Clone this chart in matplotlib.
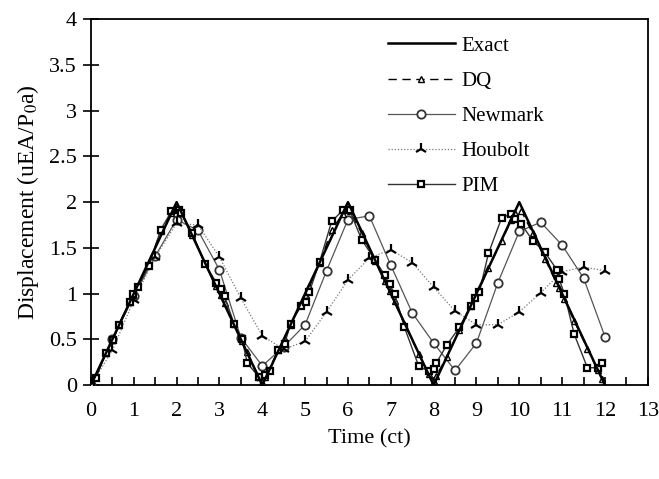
import matplotlib
matplotlib.use("Agg")
import matplotlib.pyplot as plt
import numpy as np

plt.rcParams["font.family"] = ["Liberation Serif", "DejaVu Serif"]
plt.rcParams["mathtext.fontset"] = "stix"

# %% data
t_exact = [0, 2, 4, 6, 8, 10, 12]
u_exact = [0, 2, 0, 2, 0, 2, 0]

t_dq = [0, 0.12, 0.35, 0.52, 0.65, 0.91, 0.99, 1.09, 1.35, 1.63, 1.88, 2.0, 2.11, 2.37, 2.66,
        2.93, 3.03, 3.12, 3.34, 3.53, 3.65, 3.92, 4.0, 4.06, 4.17, 4.37, 4.52, 4.66, 4.9, 5.01,
        5.1, 5.34, 5.62, 5.88, 6.0, 6.04, 6.32, 6.63, 6.86, 6.97, 7.09, 7.32, 7.65, 7.89, 8.0,
        8.06, 8.31, 8.6, 8.87, 8.97, 9.07, 9.28, 9.59, 9.81, 9.91, 10.05, 10.31, 10.6, 10.86,
        10.93, 11.05, 11.28, 11.59, 11.83, 11.94]
u_dq = [0, 0.1, 0.35, 0.5, 0.66, 0.91, 0.99, 1.08, 1.33, 1.68, 1.88, 1.95, 1.88, 1.64, 1.33,
        1.08, 0.98, 0.9, 0.67, 0.48, 0.36, 0.09, 0.03, 0.09, 0.18, 0.38, 0.5, 0.66, 0.88, 0.99,
        1.08, 1.33, 1.7, 1.87, 1.93, 1.9, 1.66, 1.36, 1.14, 1.03, 0.92, 0.67, 0.34, 0.12, 0.05,
        0.1, 0.31, 0.6, 0.87, 0.96, 1.05, 1.28, 1.58, 1.8, 1.88, 1.9, 1.66, 1.38, 1.12,
        1.06, 0.94, 0.7, 0.4, 0.16, 0.07]

t_newmark = np.arange(0, 12.5, 0.5)
u_newmark = [0, 0.5, 0.97, 1.41, 1.81, 1.69, 1.26, 0.52, 0.21, 0.42, 0.66, 1.25, 1.81,
             1.85, 1.31, 0.79, 0.46, 0.16, 0.46, 1.12, 1.68, 1.78, 1.53, 1.17, 0.53]

t_houbolt = np.arange(0, 12.5, 0.5)
u_houbolt = [0, 0.38, 0.93, 1.4, 1.77, 1.75, 1.4, 0.95, 0.54, 0.39, 0.48, 0.8, 1.15,
             1.39, 1.48, 1.34, 1.07, 0.81, 0.66, 0.66, 0.8, 1.01, 1.24, 1.29, 1.25]

t_pim = [0, 0.12, 0.35, 0.52, 0.65, 0.91, 0.99, 1.09, 1.35, 1.63, 1.88, 2.06, 2.11, 2.37,
         2.66, 2.93, 3.03, 3.12, 3.34, 3.53, 3.65, 3.92, 4.06, 4.17, 4.37, 4.52, 4.66, 4.9,
         5.01, 5.1, 5.34, 5.62, 5.88, 6.04, 6.32, 6.63, 6.86, 6.97, 7.09, 7.32, 7.65, 7.89,
         8.02, 8.06, 8.31, 8.6, 8.87, 8.97, 9.07, 9.28, 9.59, 9.81, 9.91, 10.05, 10.31, 10.6,
         10.88, 10.93, 11.05, 11.28, 11.59, 11.83, 11.94]
u_pim = [0.01, 0.08, 0.35, 0.49, 0.66, 0.91, 1.0, 1.07, 1.3, 1.7, 1.9, 1.91, 1.88, 1.66,
         1.32, 1.12, 1.05, 0.97, 0.67, 0.5, 0.24, 0.09, 0.11, 0.15, 0.38, 0.45, 0.67, 0.86,
         0.91, 1.02, 1.35, 1.79, 1.91, 1.91, 1.59, 1.37, 1.2, 1.1, 1.0, 0.63, 0.21, 0.15,
         0.18, 0.24, 0.44, 0.63, 0.87, 0.95, 1.02, 1.44, 1.83, 1.87, 1.82, 1.76, 1.58, 1.45,
         1.26, 1.16, 1.0, 0.56, 0.19, 0.19, 0.24]

# %% plot
fig = plt.figure(figsize=(6.59, 4.79), dpi=100)
ax = fig.add_axes([0.138, 0.196, 0.845, 0.764])

ax.plot(t_exact, u_exact, color="black", lw=1.8, label="Exact", zorder=5)
ax.plot(t_dq, u_dq, color="black", lw=1.0, ls=(0, (6, 4)), marker="^", ms=4,
        mfc="white", mec="black", mew=1.0, label="DQ", zorder=4)
ax.plot(t_newmark, u_newmark, color="#555555", lw=0.9, marker="o", ms=6,
        mfc="white", mec="#333333", mew=1.3, label="Newmark", zorder=3)
ax.plot(t_houbolt, u_houbolt, color="#777777", lw=0.9, ls=(0, (1, 1.5)), marker="2", ms=9,
        mec="black", mew=1.6, label="Houbolt", zorder=3)
ax.plot(t_pim, u_pim, color="#333333", lw=1.0, marker="s", ms=5,
        mfc="white", mec="black", mew=1.6, label="PIM", zorder=4)

ax.set_xlim(0, 13)
ax.set_ylim(0, 4)
ax.set_xticks(np.arange(0, 13.5, 0.5))
ax.set_xticklabels([str(int(v)) if v == int(v) else "" for v in np.arange(0, 13.5, 0.5)])
ax.set_yticks(np.arange(0, 4.5, 0.5))
ax.set_yticklabels(["0", "0.5", "1", "1.5", "2", "2.5", "3", "3.5", "4"])
ax.tick_params(axis="x", direction="in", length=6, width=1.2, labelsize=16, pad=12)
ax.tick_params(axis="y", direction="inout", length=12, width=1.2, labelsize=16, pad=4)
for s in ax.spines.values():
    s.set_linewidth(1.3)

ax.set_xlabel("Time (ct)", fontsize=16, labelpad=6)
ax.set_ylabel("Displacement (uEA/P$_0$a)", fontsize=17, labelpad=6)

ax.legend(loc="upper left", bbox_to_anchor=(0.5, 1.005), frameon=False, fontsize=15,
          handlelength=3.2, handletextpad=0.3, labelspacing=0.75)

fig.savefig("out.png", dpi=100)
